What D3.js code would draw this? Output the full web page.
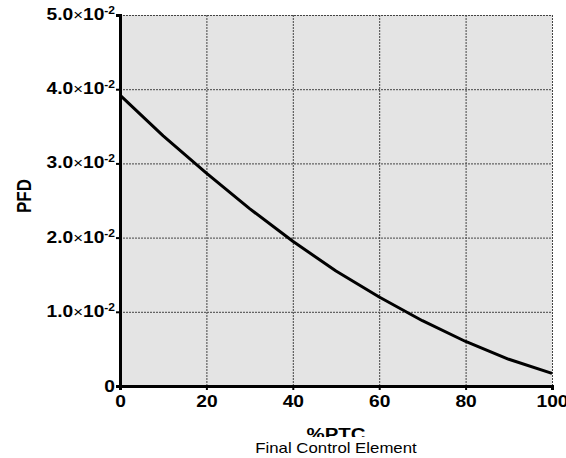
<!DOCTYPE html>
<html>
<head>
<meta charset="utf-8">
<style>
  body { margin: 0; background: #fff; }
  svg text { font-family: "Liberation Sans", Arial, sans-serif; }
</style>
<script src="https://d3js.org/d3.v7.min.js"></script>
</head>
<body>
<div id="chart"></div>
<script>
// %PTC values and PFD
var ptc = [0, 10, 20, 30, 40, 50, 60, 70, 80, 90, 100];
var pfd = [0.0392, 0.0337, 0.0287, 0.0239, 0.0195, 0.0155, 0.0120, 0.0088, 0.0060, 0.0036, 0.0017];
var xTicks = [0, 20, 40, 60, 80, 100];
var yTicks = [0, 0.01, 0.02, 0.03, 0.04, 0.05];
var yMant = ["0", "1.0", "2.0", "3.0", "4.0", "5.0"];

var W = 566, H = 458;
var svg = d3.select("#chart").append("svg").attr("width", W).attr("height", H);

var pL = 120, pR = 552, pT = 15, pB = 386;
var sx = "scale(1.2,1)"; // the original text looks stretched sideways
var x = d3.scaleLinear().domain([0, 100]).range([pL, pR]);
var y = d3.scaleLinear().domain([0, 0.05]).range([pB, pT]);

// plot background
svg.append("rect")
  .attr("x", pL).attr("y", pT)
  .attr("width", pR - pL).attr("height", pB - pT)
  .attr("fill", "#e4e4e4");

// dotted grid
svg.append("g").selectAll("line").data(xTicks.slice(1)).enter().append("line")
  .attr("x1", d => x(d) + 0.5).attr("x2", d => x(d) + 0.5)
  .attr("y1", pT).attr("y2", pB)
  .attr("stroke", "#444").attr("stroke-width", 1).attr("stroke-dasharray", "2,1");
svg.append("g").selectAll("line").data(yTicks.slice(1)).enter().append("line")
  .attr("x1", pL).attr("x2", pR)
  .attr("y1", d => y(d) + 0.5).attr("y2", d => y(d) + 0.5)
  .attr("stroke", "#444").attr("stroke-width", 1).attr("stroke-dasharray", "2,1");

// curve
var line = d3.line().x((d, i) => x(ptc[i])).y(d => y(d));
svg.append("path").datum(pfd)
  .attr("d", line)
  .attr("fill", "none").attr("stroke", "#000").attr("stroke-width", 3)
  .attr("stroke-linejoin", "round");

// axes
var xAxis = svg.append("g").attr("transform", "translate(0," + pB + ")")
  .call(d3.axisBottom(x).tickValues(xTicks).tickSize(4).tickFormat(d3.format("d")));
var yAxis = svg.append("g").attr("transform", "translate(" + pL + ",0)")
  .call(d3.axisLeft(y).tickValues(yTicks).tickSize(4).tickFormat(""));
[xAxis, yAxis].forEach(function (g) {
  g.select(".domain").attr("stroke", "#000").attr("stroke-width", 3);
  g.selectAll(".tick line").attr("stroke", "#000").attr("stroke-width", 2);
});
xAxis.selectAll(".tick text")
  .attr("font-size", 16).attr("font-weight", "bold").attr("fill", "#000")
  .attr("dy", 0).attr("y", 21).attr("transform", sx);

// y tick labels  m.0×10^-2
var yl = svg.append("g");
yTicks.forEach(function (v, i) {
  var t = yl.append("text")
    .attr("transform", "translate(115," + (y(v) + (v === 0 ? 6 : 5)) + ") " + sx)
    .attr("text-anchor", "end").attr("font-weight", "bold").attr("font-size", 16)
    .attr("fill", "#000");
  if (v === 0) { t.text(yMant[i]); return; }
  t.append("tspan").text(yMant[i]);
  t.append("tspan").attr("font-weight", "normal").attr("font-size", 14).text("\u00d7");
  t.append("tspan").text("10");
  t.append("tspan").attr("font-size", 10).attr("dy", -6).text("-2");
});

// axis titles
svg.append("text")
  .attr("transform", "translate(31,196) rotate(-90) scale(1,1.2)")
  .attr("text-anchor", "middle").attr("font-weight", "bold").attr("font-size", 17)
  .text("PFD");
svg.append("text")
  .attr("transform", "translate(336,440) " + sx)
  .attr("text-anchor", "middle").attr("font-weight", "bold").attr("font-size", 17)
  .text("%PTC");
svg.append("rect").attr("x", 240).attr("y", 437).attr("width", 200).attr("height", 21).attr("fill", "#fff");
svg.append("text")
  .attr("transform", "translate(336,453) " + sx)
  .attr("text-anchor", "middle").attr("font-size", 14)
  .text("Final Control Element");
</script>
</body>
</html>
